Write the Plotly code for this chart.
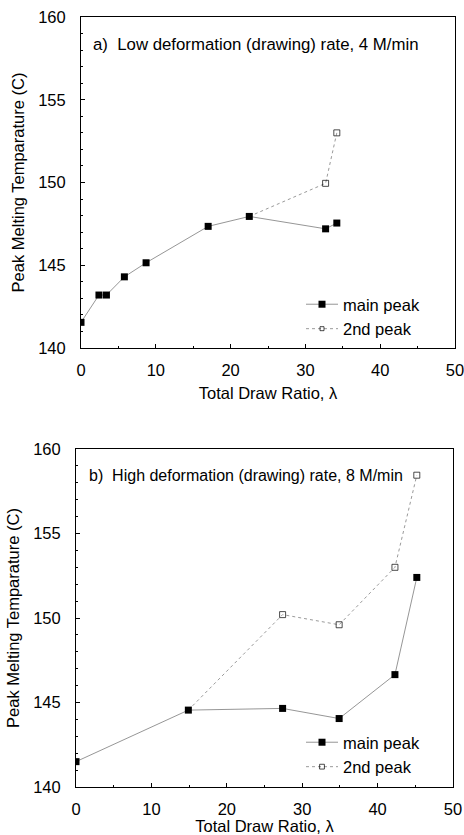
import plotly.graph_objects as go

# Panel a) low rate, 4 M/min
a_main_x = [0, 2.4, 3.4, 5.8, 8.7, 17.0, 22.5, 32.7, 34.2]
a_main_y = [141.55, 143.2, 143.2, 144.3, 145.15, 147.35, 147.95, 147.2, 147.55]
a_2nd_x = [22.5, 32.7, 34.2]
a_2nd_y = [147.95, 149.95, 153.0]

# Panel b) high rate, 8 M/min
b_main_x = [0, 14.9, 27.4, 34.9, 42.3, 45.2]
b_main_y = [141.5, 144.55, 144.65, 144.05, 146.65, 152.4]
b_2nd_x = [14.9, 27.4, 34.9, 42.3, 45.2]
b_2nd_y = [144.55, 150.2, 149.6, 153.0, 158.45]

x_ticks = [0, 10, 20, 30, 40, 50]
y_ticks = [140, 145, 150, 155, 160]

FONT = "Liberation Sans, Arial, sans-serif"
grey = "#8a8a8a"

fig = go.Figure()

def add_panel(mx, my, sx, sy, xa, ya, leg):
    # second peak (first point is the branching main point, no marker shown)
    fig.add_trace(go.Scatter(
        x=sx, y=sy, mode="lines+markers", name="2nd peak",
        line=dict(color="#9a9a9a", width=1, dash="dot"),
        marker=dict(symbol="square-open", size=[0] + [6] * (len(sx) - 1),
                    color="black", line=dict(width=1, color="black")),
        xaxis=xa, yaxis=ya, legend=leg, legendrank=2))
    fig.add_trace(go.Scatter(
        x=mx, y=my, mode="lines+markers", name="main peak",
        line=dict(color=grey, width=0.9),
        marker=dict(symbol="square", size=7, color="black"),
        xaxis=xa, yaxis=ya, legend=leg, legendrank=1))

add_panel(a_main_x, a_main_y, a_2nd_x, a_2nd_y, "x", "y", "legend")
add_panel(b_main_x, b_main_y, b_2nd_x, b_2nd_y, "x2", "y2", "legend2")

W, H = 464, 835

def xdom(l, r):
    return [l / W, r / W]

def ydom(t, b):
    return [1 - b / H, 1 - t / H]

axis_common = dict(
    automargin=False, ticklabeloverflow="allow",
    showgrid=False, zeroline=False, showline=True, linecolor="black",
    linewidth=1, mirror=True, ticks="inside", ticklen=4, tickcolor="black",
    tickfont=dict(family=FONT, size=16.5, color="black"),
)

xcommon = dict(axis_common, range=[0, 50], tickvals=x_ticks, ticklabelstandoff=7,
               minor=dict(dtick=5, ticks="inside", ticklen=2, tickcolor="black"))
ycommon = dict(axis_common, range=[140, 160], tickvals=y_ticks, ticklabelstandoff=11,
               minor=dict(dtick=1, ticks="inside", ticklen=2, tickcolor="black"))

title_font = dict(family=FONT, size=16.5, color="black")

fig.update_layout(
    width=W, height=H,
    margin=dict(l=0, r=0, t=0, b=0),
    paper_bgcolor="white", plot_bgcolor="white",
    font=dict(family=FONT, size=16.5, color="black"),
    xaxis=dict(xcommon, domain=xdom(81, 455), anchor="y",
               title=dict(text="Total Draw Ratio, λ", font=title_font, standoff=9)),
    yaxis=dict(ycommon, domain=ydom(17, 348), anchor="x",
               title=dict(text="Peak Melting Temparature (C)", font=title_font, standoff=9)),
    xaxis2=dict(xcommon, domain=xdom(76, 453), anchor="y2",
                title=dict(text="Total Draw Ratio, λ", font=title_font, standoff=9)),
    yaxis2=dict(ycommon, domain=ydom(449, 787), anchor="x2",
                title=dict(text="Peak Melting Temparature (C)", font=title_font, standoff=9)),
    legend=dict(x=301 / W, y=1 - 287 / H, xanchor="left", yanchor="top",
                bgcolor="rgba(0,0,0,0)", font=dict(family=FONT, size=16.5),
                itemwidth=32, tracegroupgap=9),
    legend2=dict(x=301 / W, y=1 - 725 / H, xanchor="left", yanchor="top",
                 bgcolor="rgba(0,0,0,0)", font=dict(family=FONT, size=16.5),
                 itemwidth=32, tracegroupgap=9),
    annotations=[
        dict(text="a)  Low deformation (drawing) rate, 4 M/min", x=91 / W, y=1 - 45 / H,
             xref="paper", yref="paper", xanchor="left", yanchor="middle",
             showarrow=False, font=dict(family=FONT, size=16.8, color="black")),
        dict(text="b)  High deformation (drawing) rate, 8 M/min", x=87 / W, y=1 - 475 / H,
             xref="paper", yref="paper", xanchor="left", yanchor="middle",
             showarrow=False, font=dict(family=FONT, size=16, color="black")),
    ],
    showlegend=True,
)

fig.write_html("out.html", config={"displayModeBar": False},
               post_script="document.body.style.margin='0';document.body.style.overflow='hidden';")
